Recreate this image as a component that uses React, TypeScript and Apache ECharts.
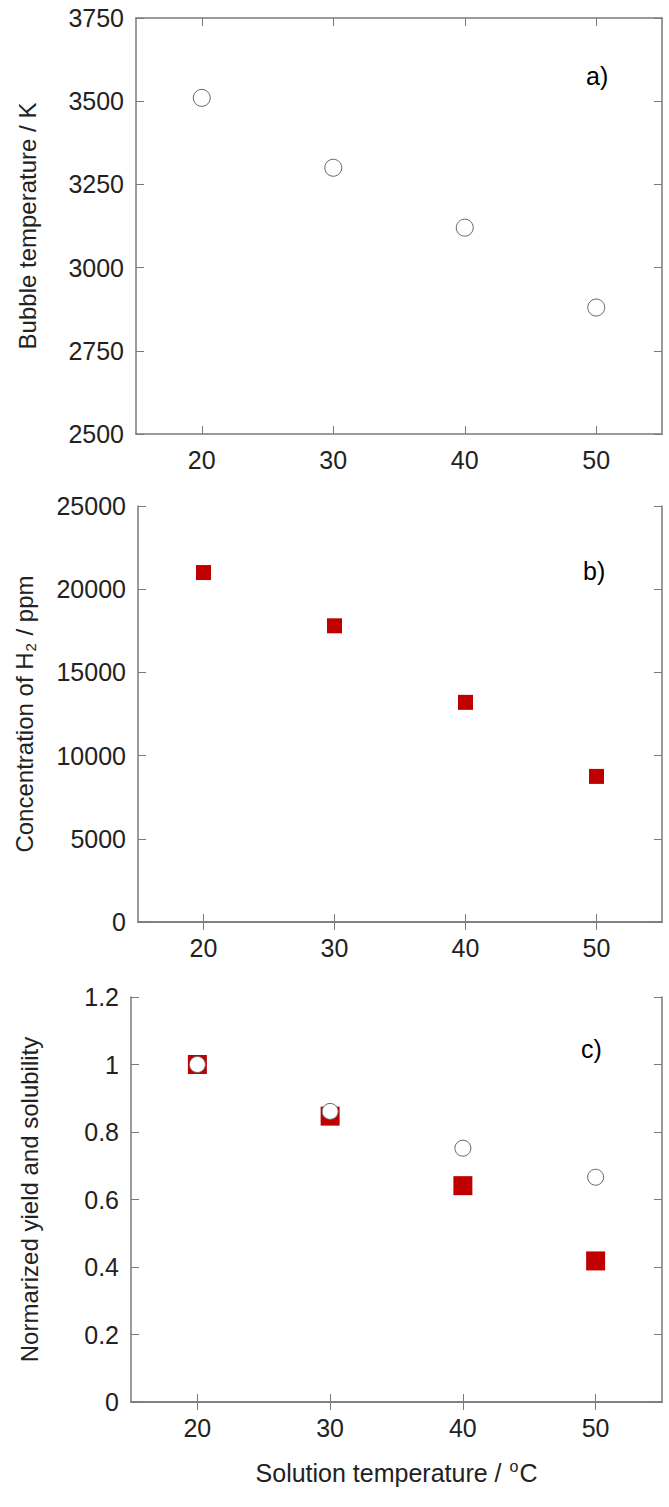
import React, { useEffect, useRef } from "react";
import * as echarts from "echarts";

const temps = [20, 30, 40, 50];
const bubbleTemp = [3510, 3300, 3120, 2880];
const h2Conc = [21000, 17800, 13200, 8750];
const normYield = [1.0, 0.847, 0.641, 0.418];
const normSolubility = [1.0, 0.861, 0.752, 0.666];
const xTicks = [20, 30, 40, 50];
const panelLabels = ["a)", "b)", "c)"];

const FONT = "Liberation Sans, Arial, sans-serif";
const TXT = "#222";
const FRAME = "#7a7a7a";
const RED = "#c00000";

const grids = [
  { left: 136, top: 18, width: 526, height: 416 },
  { left: 136, top: 506, width: 526, height: 416 },
  { left: 131, top: 997, width: 531, height: 405 },
];

const yRanges = [
  { min: 2500, max: 3750, interval: 250 },
  { min: 0, max: 25000, interval: 5000 },
  { min: 0, max: 1.2, interval: 0.2 },
];

export default function App() {
  const ref = useRef<HTMLDivElement>(null);
  useEffect(() => {
    if (!ref.current) return;
    const chart = echarts.init(ref.current, null, { renderer: "svg" });
    const xAxes: any[] = [];
    const yAxes: any[] = [];
    grids.forEach((g, i) => {
      const common = {
        gridIndex: i,
        type: "value",
        min: 15,
        max: 55,
        axisLine: { show: true, lineStyle: { color: FRAME, width: 1.5 } },
        splitLine: { show: false },
        axisTick: { show: true, inside: true, length: 8, customValues: xTicks, lineStyle: { color: FRAME } },
      };
      xAxes.push({
        ...common,
        position: "bottom",
        axisLabel: { show: true, customValues: xTicks, fontSize: 25, color: TXT, fontFamily: FONT, margin: 13 },
        ...(i === 2
          ? {
              name: "{t|Solution temperature / }{p|o}{t|C}",
              nameLocation: "middle",
              nameGap: 56,
              nameTextStyle: {
                fontFamily: FONT,
                color: TXT,
                fontSize: 25,
                rich: {
                  t: { fontSize: 25, fontFamily: FONT, color: TXT, lineHeight: 29 },
                  p: { fontSize: 16, fontFamily: FONT, color: TXT, lineHeight: 16, verticalAlign: "top", padding: [0, 1, 13, 1] },
                },
              },
            }
          : {}),
      });
      xAxes.push({ ...common, position: "top", axisLabel: { show: false } });
      const r = yRanges[i];
      const ycommon = {
        gridIndex: i,
        type: "value",
        min: r.min,
        max: r.max,
        interval: r.interval,
        axisLine: { show: true, lineStyle: { color: FRAME, width: 1.5 } },
        splitLine: { show: false },
        axisTick: { show: true, inside: true, length: 8, lineStyle: { color: FRAME } },
      };
      const names = [
        { name: "Bubble temperature / K", gap: 97 },
        { name: "{t|Concentration of H}{s|2}{t| / ppm}", gap: 100 },
        { name: "Normarized yield and solubility", gap: 90 },
      ];
      yAxes.push({
        ...ycommon,
        position: "left",
        axisLabel: {
          show: true,
          fontSize: 25,
          color: TXT,
          fontFamily: FONT,
          margin: 12,
          formatter: (v: number) => String(Math.round(v * 1000) / 1000),
        },
        name: names[i].name,
        nameLocation: "middle",
        nameGap: names[i].gap,
        nameRotate: 90,
        nameTextStyle: {
          fontFamily: FONT,
          color: TXT,
          fontSize: 24,
          rich: {
            t: { fontSize: 24, fontFamily: FONT, color: TXT, lineHeight: 28 },
            s: { fontSize: 15, fontFamily: FONT, color: TXT, lineHeight: 15, verticalAlign: "bottom", padding: [15, 1, 0, 1] },
          },
        },
      });
      yAxes.push({ ...ycommon, position: "right", axisLabel: { show: false } });
    });

    const pairs = (ys: number[]) => temps.map((t, k) => [t, ys[k]]);

    chart.setOption({
      animation: false,
      backgroundColor: "#fff",
      grid: grids.map((g) => ({ ...g, containLabel: false })),
      xAxis: xAxes,
      yAxis: yAxes,
      graphic: [
        { type: "text", left: 586, top: 63, style: { text: panelLabels[0], fontSize: 25, fontFamily: FONT, fill: "#000" } },
        { type: "text", left: 583, top: 558, style: { text: panelLabels[1], fontSize: 25, fontFamily: FONT, fill: "#000" } },
        { type: "text", left: 581, top: 1036, style: { text: panelLabels[2], fontSize: 25, fontFamily: FONT, fill: "#000" } },
      ],
      series: [
        {
          type: "scatter",
          xAxisIndex: 0,
          yAxisIndex: 0,
          data: pairs(bubbleTemp),
          symbol: "circle",
          symbolSize: 17,
          itemStyle: { color: "#fff", borderColor: "#666", borderWidth: 1, opacity: 1 },
        },
        {
          type: "scatter",
          xAxisIndex: 2,
          yAxisIndex: 2,
          data: pairs(h2Conc),
          symbol: "rect",
          symbolSize: 15,
          itemStyle: { color: RED, opacity: 1 },
        },
        {
          type: "scatter",
          xAxisIndex: 4,
          yAxisIndex: 4,
          data: pairs(normYield),
          symbol: "rect",
          symbolSize: 19,
          itemStyle: { color: RED, opacity: 1 },
        },
        {
          type: "scatter",
          xAxisIndex: 4,
          yAxisIndex: 4,
          data: pairs(normSolubility),
          symbol: "circle",
          symbolSize: 16,
          itemStyle: { color: "#fff", borderColor: "#666", borderWidth: 1, opacity: 1 },
        },
      ],
    });
    return () => chart.dispose();
  }, []);
  return (
    <div
      ref={ref}
      style={{ position: "absolute", left: 0, top: 0, width: 669, height: 1507 }}
    />
  );
}
